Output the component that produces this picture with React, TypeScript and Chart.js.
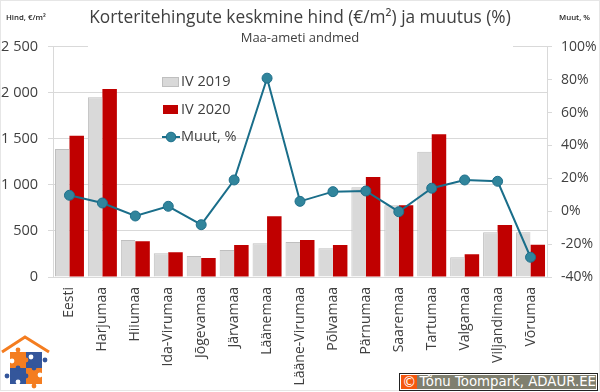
import React, { useEffect, useRef } from "react";
import { Chart, registerables } from "chart.js";

Chart.register(...registerables);

const categories = ["Eesti", "Harjumaa", "Hiiumaa", "Ida-Virumaa", "Jõgevamaa", "Järvamaa", "Läänemaa", "Lääne-Virumaa", "Põlvamaa", "Pärnumaa", "Saaremaa", "Tartumaa", "Valgamaa", "Viljandimaa", "Võrumaa"];
const iv2019 = [1391, 1953, 402, 257, 228, 293, 366, 380, 312, 975, 779, 1359, 214, 486, 486];
const iv2020 = [1533, 2040, 388, 268, 206, 348, 660, 402, 348, 1087, 779, 1550, 247, 565, 351];
const muut = [9.7, 5, -2.9, 3, -8.2, 19, 80.9, 6, 11.9, 12.3, -0.3, 14, 19, 18.2, -28];

const FONT = '"Open Sans", sans-serif';
const TEXT = "#404040";
const GRID = "#d9d9d9";

const overlay = {
  id: "overlay",
  beforeDatasetsDraw(chart: any) {
    const c = chart.ctx;
    c.save();
    c.fillStyle = "#fff";
    c.fillRect(88, 44, 425, 6);
    c.restore();
  },
  afterDraw(chart: any) {
    const c = chart.ctx;
    const ds = chart.data.datasets;
    c.save();
    c.textBaseline = "middle";
    c.textAlign = "left";
    c.font = `600 7.8px ${FONT}`;
    c.fillStyle = "#262626";
    c.fillText("Hind, €/m²", 6, 17.5);
    c.fillText("Muut, %", 559, 17.5);

    c.font = `14.5px ${FONT}`;
    // legend
    c.fillStyle = ds[0].backgroundColor;
    c.strokeStyle = ds[0].borderColor;
    c.lineWidth = 1;
    c.fillRect(162.5, 77.5, 16, 9);
    c.strokeRect(162.5, 77.5, 16, 9);
    c.fillStyle = ds[1].backgroundColor;
    c.fillRect(163, 105, 15, 9);
    c.strokeStyle = ds[2].borderColor;
    c.lineWidth = 2;
    c.beginPath();
    c.moveTo(162, 137);
    c.lineTo(180, 137);
    c.stroke();
    c.beginPath();
    c.arc(171, 137, 4.8, 0, Math.PI * 2);
    c.fillStyle = ds[2].pointBackgroundColor;
    c.fill();
    c.lineWidth = 1;
    c.stroke();
    c.fillStyle = TEXT;
    c.fillText(ds[0].label, 181, 82);
    c.fillText(ds[1].label, 181, 110);
    c.fillText(ds[2].label, 181, 137);
    c.restore();
  },
};

function Logo() {
  const o = "#f47d20";
  const b = "#34569b";
  return (
    <svg width="56" height="62" viewBox="0 0 56 62" style={{ position: "absolute", left: 0, top: 328 }}>
      <polyline points="2,24 25,9 49,24" fill="none" stroke={o} strokeWidth="3" />
      <rect x="10" y="24" width="16" height="16" fill={o} />
      <rect x="26" y="24" width="16" height="16" fill={b} />
      <rect x="10" y="40" width="16" height="16" fill={b} />
      <rect x="26" y="40" width="16" height="16" fill={o} />
      <circle cx="18" cy="22" r="2.4" fill={o} />
      <circle cx="45" cy="32" r="2.4" fill={b} />
      <circle cx="7" cy="48" r="2.4" fill={b} />
      <circle cx="34" cy="58" r="2.4" fill={o} />
      <circle cx="18" cy="40" r="2.4" fill={b} />
      <circle cx="34" cy="40" r="2.4" fill={b} />
      <circle cx="26" cy="32" r="2.4" fill={o} />
      <circle cx="26" cy="48" r="2.4" fill={b} />
      <circle cx="12" cy="33" r="2.4" fill="#fff" />
      <circle cx="31" cy="29" r="2.4" fill="#fff" />
      <circle cx="40" cy="47" r="2.4" fill="#fff" />
      <circle cx="18" cy="54" r="2.4" fill="#fff" />
    </svg>
  );
}

export default function App() {
  const ref = useRef<HTMLCanvasElement>(null);
  useEffect(() => {
    document.body.style.margin = "0";
    const chart = new Chart(ref.current as HTMLCanvasElement, {
      data: {
        labels: categories,
        datasets: [
          { type: "bar", label: "IV 2019", data: iv2019, backgroundColor: "#d9d9d9", borderColor: "#bfbfbf", borderWidth: { left: 1, top: 1, right: 0, bottom: 0 }, yAxisID: "y", order: 1, barPercentage: 1, categoryPercentage: 0.88 },
          { type: "bar", label: "IV 2020", data: iv2020, backgroundColor: "#c00000", borderColor: "#c00000", borderWidth: 0, yAxisID: "y", order: 2, barPercentage: 1, categoryPercentage: 0.88 },
          { type: "line", label: "Muut, %", data: muut, borderColor: "#1a6e8a", borderWidth: 2, pointBackgroundColor: "#31859c", pointBorderColor: "#1f6f8b", pointBorderWidth: 1, pointRadius: 5, tension: 0, yAxisID: "y1", order: 0 },
        ],
      } as any,
      options: {
        responsive: false,
        animation: false,
        layout: { padding: { top: 1.4, left: 0, right: 0, bottom: 0 } },
        plugins: {
          legend: { display: false },
          tooltip: { enabled: false },
          title: { display: true, text: "Korteritehingute keskmine hind (€/m²) ja muutus (%)", color: TEXT, font: { family: FONT, size: 17.3, weight: "normal" }, padding: { top: 6, bottom: 2 } },
          subtitle: { display: true, text: "Maa-ameti andmed", color: TEXT, font: { family: FONT, size: 13, weight: "normal" }, padding: { top: 0, bottom: 1 } },
        },
        scales: {
          x: {
            grid: { display: false },
            border: { color: GRID },
            afterFit: (s: any) => { s.height = 115; },
            ticks: { autoSkip: false, minRotation: 90, maxRotation: 90, padding: 2, color: TEXT, font: { family: FONT, size: 14 } },
          },
          y: {
            position: "left",
            min: 0,
            max: 2500,
            grid: { color: GRID, tickLength: 5 },
            border: { color: GRID },
            afterFit: (s: any) => { s.width = 53; },
            ticks: { stepSize: 500, padding: 10, color: TEXT, font: { family: FONT, size: 14.5 }, callback: (v: any) => String(v).replace(/\B(?=(\d{3})+$)/g, " ") },
          },
          y1: {
            position: "right",
            min: -40,
            max: 100,
            grid: { drawOnChartArea: false, color: GRID, tickLength: 5 },
            border: { color: GRID },
            afterFit: (s: any) => { s.width = 53; },
            ticks: { stepSize: 20, padding: 9, color: TEXT, font: { family: FONT, size: 14 }, callback: (v: any) => `${v}%` },
          },
        },
      } as any,
      plugins: [overlay],
    });
    return () => chart.destroy();
  }, []);
  return (
    <div style={{ position: "relative", width: 600, height: 392, overflow: "hidden", background: "#fff" }}>
      <canvas ref={ref} width={600} height={392} style={{ display: "block" }} />
      <div style={{ position: "absolute", left: 0, top: 0, width: 598, height: 389, border: "1px solid #e6e6e6", pointerEvents: "none" }} />
      <Logo />
      <div style={{ position: "absolute", left: 399, top: 373, width: 199, height: 18, boxSizing: "border-box", border: "1px solid #222", background: "#fff", padding: 1, display: "flex" }}>
        <div style={{ width: 18, background: "#f4570f", color: "#fff", fontFamily: "'DejaVu Sans', sans-serif", fontSize: 14, lineHeight: "14px", textAlign: "center" }}>©</div>
        <div style={{ flex: 1, background: "#7f7f6f", color: "#fff", fontFamily: "'DejaVu Sans', sans-serif", fontSize: 13.3, lineHeight: "14px", paddingLeft: 2, whiteSpace: "nowrap" }}>Tõnu Toompark, ADAUR.EE</div>
      </div>
    </div>
  );
}
